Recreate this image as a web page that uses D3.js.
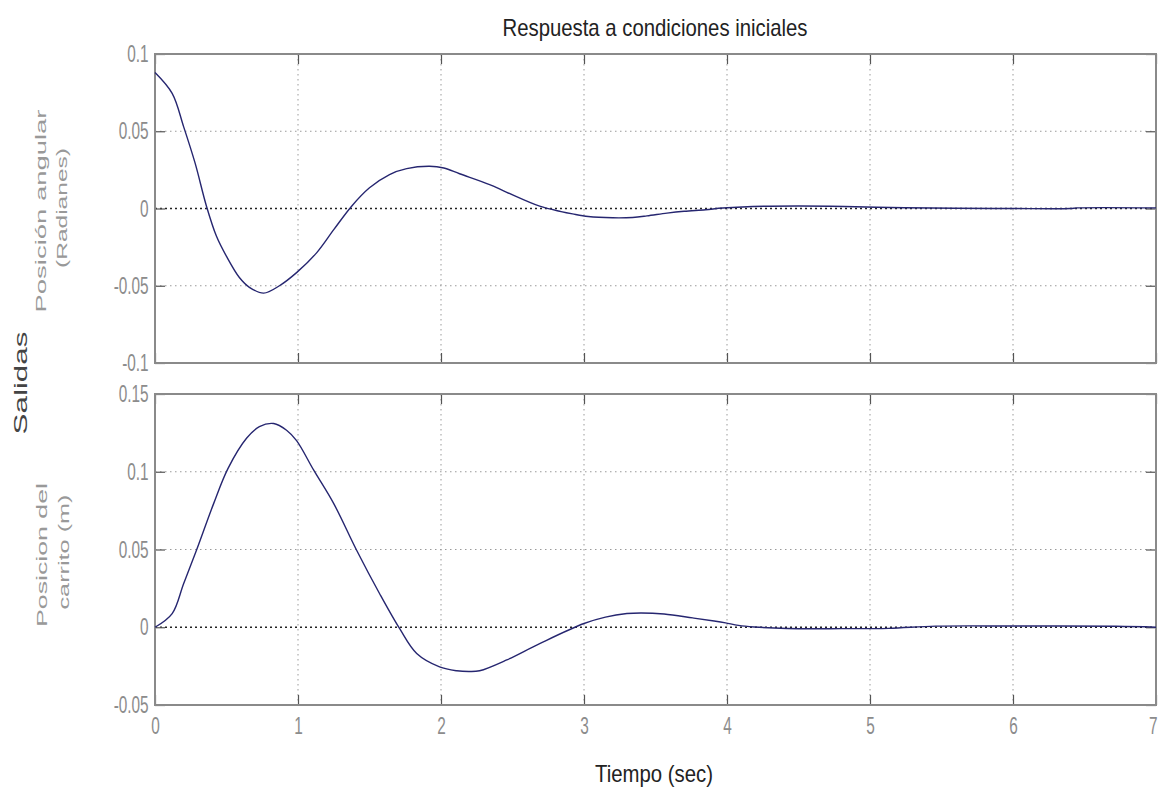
<!DOCTYPE html>
<html>
<head>
<meta charset="utf-8">
<script src="https://cdn.jsdelivr.net/npm/d3@7"></script>
<style>
  body { margin: 0; background: #fff; }
  svg { display: block; font-family: "Liberation Sans", Arial, sans-serif; }
</style>
</head>
<body>
<svg id="chart" width="1159" height="789"></svg>
<script>
// tiempo (s) y posicion angular (rad)
var tAngulo = [0, 0.12, 0.2, 0.28, 0.36, 0.43, 0.5, 0.59, 0.66, 0.76, 0.87, 0.99, 1.13, 1.25, 1.375, 1.5, 1.64, 1.76, 1.92, 2.02, 2.13, 2.34, 2.46, 2.69, 2.84, 2.92, 3.03, 3.2, 3.34, 3.44, 3.58, 3.7, 3.85, 3.97, 4.18, 4.5, 4.82, 5.24, 5.6, 6.0, 6.4, 6.45, 7];
var angulo = [0.088, 0.0745, 0.053, 0.0295, 0.0015, -0.018, -0.031, -0.0447, -0.051, -0.0548, -0.050, -0.0415, -0.0287, -0.0137, 0.0015, 0.0134, 0.022, 0.0258, 0.0273, 0.0262, 0.0225, 0.0155, 0.0105, 0.0015, -0.002, -0.0035, -0.0052, -0.006, -0.0058, -0.0048, -0.003, -0.0018, -0.0008, 0.0003, 0.0013, 0.0016, 0.0013, 0.0005, 0.0002, 0, 0, 0.0004, 0.0004];

// tiempo (s) y posicion del carrito (m)
var tCarrito = [0, 0.12, 0.2, 0.29, 0.41, 0.51, 0.64, 0.73, 0.83, 0.92, 0.99, 1.11, 1.25, 1.41, 1.57, 1.71, 1.83, 1.99, 2.11, 2.2, 2.27, 2.46, 2.69, 3.0, 3.15, 3.3, 3.4, 3.56, 3.76, 3.91, 3.99, 4.08, 4.19, 4.42, 4.8, 5.13, 5.46, 6.0, 6.72, 7];
var carrito = [0, 0.0088, 0.028, 0.0495, 0.0795, 0.102, 0.1215, 0.129, 0.131, 0.1267, 0.120, 0.101, 0.0795, 0.0495, 0.0217, -0.0008, -0.0169, -0.0255, -0.028, -0.0285, -0.028, -0.021, -0.0105, 0.0024, 0.0065, 0.0088, 0.0092, 0.0085, 0.006, 0.004, 0.0028, 0.0012, 0.0002, -0.0008, -0.0009, -0.0007, 0.0007, 0.0008, 0.0006, 0];

var xTicks = [0, 1, 2, 3, 4, 5, 6, 7];
var yTicksArriba = [-0.1, -0.05, 0, 0.05, 0.1];
var yTicksAbajo = [-0.05, 0, 0.05, 0.1, 0.15];

var left = 155, right = 1156;
var svg = d3.select("#chart");

var x = d3.scaleLinear().domain([0, 7]).range([left, right]);

function panel(top, bottom, yDomain, yTicks, ts, vals, showX) {
    var y = d3.scaleLinear().domain(yDomain).range([bottom, top]);
    var g = svg.append("g");

    // rejilla punteada
    g.selectAll(".gx").data(xTicks.slice(1, -1)).enter().append("line")
        .attr("x1", function (d) { return x(d); })
        .attr("x2", function (d) { return x(d); })
        .attr("y1", top).attr("y2", bottom)
        .attr("stroke", "#9a9a9a").attr("stroke-width", 1)
        .attr("stroke-dasharray", "1.5,3.5");
    g.selectAll(".gy").data(yTicks.slice(1, -1)).enter().append("line")
        .attr("x1", left).attr("x2", right)
        .attr("y1", function (d) { return y(d); })
        .attr("y2", function (d) { return y(d); })
        .attr("stroke", function (d) { return d == 0 ? "#222" : "#9a9a9a"; })
        .attr("stroke-width", function (d) { return d == 0 ? 1.3 : 1; })
        .attr("stroke-dasharray", function (d) { return d == 0 ? "2,3" : "1.5,3.5"; });

    // ejes con marcas hacia adentro
    var ax = g.append("g").attr("transform", "translate(0," + bottom + ")")
        .call(d3.axisBottom(x).tickValues(xTicks).tickSizeInner(-10).tickSizeOuter(0).tickPadding(12)
            .tickFormat(function (d) { return showX ? String(d) : ""; }));
    var axTop = g.append("g").attr("transform", "translate(0," + top + ")")
        .call(d3.axisTop(x).tickValues(xTicks).tickSizeInner(-10).tickSizeOuter(0).tickFormat(""));
    var ay = g.append("g").attr("transform", "translate(" + left + ",0)")
        .call(d3.axisLeft(y).tickValues(yTicks).tickSizeInner(-10).tickSizeOuter(0).tickPadding(10)
            .tickFormat(function (d) { return String(d); }));
    var ayR = g.append("g").attr("transform", "translate(" + right + ",0)")
        .call(d3.axisRight(y).tickValues(yTicks).tickSizeInner(-10).tickSizeOuter(0).tickFormat(""));

    [ax, axTop, ay, ayR].forEach(function (a) {
        a.select(".domain").remove();
        a.selectAll(".tick line").attr("stroke", "#555").attr("stroke-width", 1.2);
        a.selectAll(".tick text")
            .attr("fill", "#8c8c8c")
            .style("font-size", "24px")
            .attr("transform", "scale(0.64,1)");
    });
    // el "7" queda dentro del borde
    ax.selectAll(".tick text").filter(function (d) { return d == 7; }).attr("dx", -5);

    g.append("rect")
        .attr("x", left).attr("y", top)
        .attr("width", right - left).attr("height", bottom - top)
        .attr("fill", "none").attr("stroke", "#8a8a8a").attr("stroke-width", 2);

    var line = d3.line()
        .x(function (d, i) { return x(ts[i]); })
        .y(function (d) { return y(d); })
        .curve(d3.curveCatmullRom.alpha(0.5));

    g.append("path")
        .datum(vals)
        .attr("d", line)
        .attr("fill", "none")
        .attr("stroke", "#262670")
        .attr("stroke-width", 1.4);
}

panel(54, 363, [-0.1, 0.1], yTicksArriba, tAngulo, angulo, false);
panel(394, 705, [-0.05, 0.15], yTicksAbajo, tCarrito, carrito, true);

// textos
svg.append("text")
    .attr("x", 655).attr("y", 36)
    .attr("text-anchor", "middle")
    .attr("fill", "#222")
    .style("font-size", "24px")
    .attr("textLength", 305).attr("lengthAdjust", "spacingAndGlyphs")
    .text("Respuesta a condiciones iniciales");

svg.append("text")
    .attr("x", 654).attr("y", 782)
    .attr("text-anchor", "middle")
    .attr("fill", "#222")
    .style("font-size", "24px")
    .attr("textLength", 118).attr("lengthAdjust", "spacingAndGlyphs")
    .text("Tiempo (sec)");

function rotLabel(cx, cy, txt, size, len, color) {
    svg.append("text")
        .attr("transform", "translate(" + cx + "," + cy + ") rotate(-90)")
        .attr("text-anchor", "middle")
        .attr("fill", color)
        .style("font-size", size + "px")
        .attr("textLength", len).attr("lengthAdjust", "spacingAndGlyphs")
        .text(txt);
}

rotLabel(27, 383, "Salidas", 18, 103, "#444");
rotLabel(46, 211, "Posición angular", 15, 203, "#999");
rotLabel(67, 208, "(Radianes)", 15, 120, "#999");
rotLabel(47, 555, "Posicion del", 15, 144, "#999");
rotLabel(69, 552, "carrito (m)", 15, 115, "#999");
</script>
</body>
</html>
